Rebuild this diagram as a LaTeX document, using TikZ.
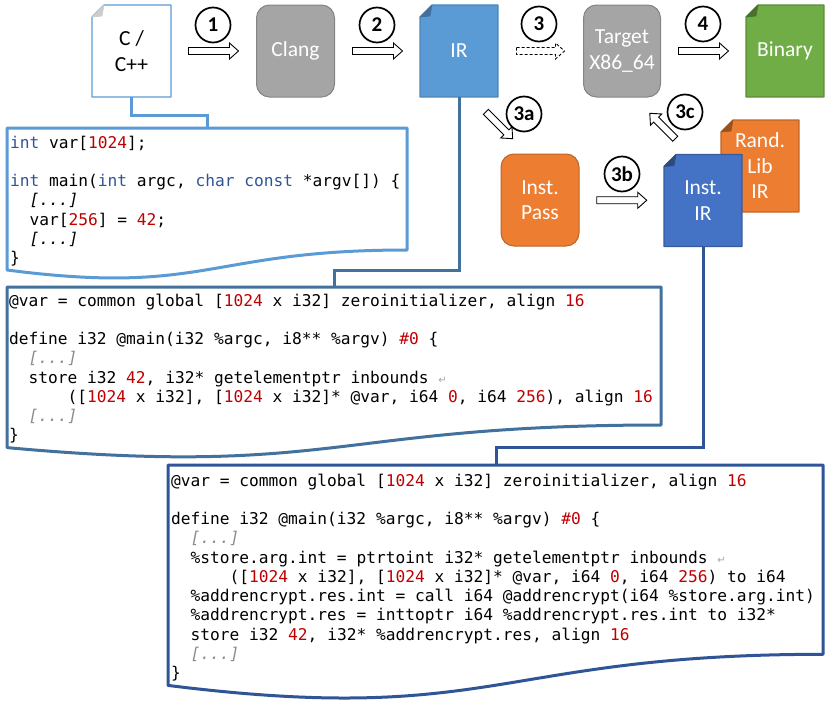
\documentclass[tikz,border=0pt]{standalone}
\usepackage{fontspec}
\setmainfont{Carlito}
\newfontfamily\codefont{DejaVu Sans Mono}
\newfontfamily\symfont{DejaVu Sans}
\usetikzlibrary{positioning, calc}

\definecolor{srcblue}{HTML}{5B9BD5}
\definecolor{irblue}{HTML}{41719C}
\definecolor{instblue}{HTML}{2F5597}
\definecolor{darkblue}{HTML}{4472C4}
\definecolor{toolgray}{HTML}{A5A5A5}
\definecolor{passorange}{HTML}{ED7D31}
\definecolor{bingreen}{HTML}{70AD47}
\definecolor{kwblue}{HTML}{2F5597}
\definecolor{numred}{HTML}{C00000}

\newcommand{\kw}[1]{\textcolor{kwblue}{#1}}
\newcommand{\nm}[1]{\textcolor{numred}{#1}}
\newcommand{\elide}[1][black]{\textcolor{#1}{\textit{[...]}}}
\newcommand{\ind}[1]{\hphantom{#1}}
\newcommand{\wrapmark}{{\symfont\fontsize{10}{10}\selectfont\textcolor{black!35}{↵}}}
% outline with the snipped, folded corner of a document node
\newcommand{\docsheet}[3]{%
  \fill[white] (#1.north west) -- ++(12,0) -- ++(-12,12) -- cycle;
  \draw[#2, line width=1.2pt, line join=round]
    ([xshift=12pt]#1.north west) -- (#1.north east) -- (#1.south east)
    -- (#1.south west) -- ([yshift=-12pt]#1.north west) -- cycle;
  \filldraw[#3, line width=0.6pt, line join=round] ([yshift=-12pt]#1.north west)
    -- ([xshift=12pt]#1.north west) -- ([xshift=10pt, yshift=-11pt]#1.north west) -- cycle;}
\newcommand{\blockarr}[4][]{%
  \draw[barrow, #1, shift={#2}, rotate=#3]
    ({-#4/2},-3.5) -- ({#4/2-9},-3.5) -- ({#4/2-9},-8) -- ({#4/2},0)
    -- ({#4/2-9},8) -- ({#4/2-9},3.5) -- ({-#4/2},3.5) -- cycle;}

\begin{document}
\begin{tikzpicture}[x=1pt, y=-1pt,
  font=\fontsize{21.5}{25.5}\selectfont,
  docshape/.style={rectangle, outer sep=0pt, minimum width=78pt, minimum height=92pt,
                   inner sep=0pt, align=center, text=white},
  toolbox/.style={draw, rounded corners=13pt, line width=1pt, minimum width=78pt,
                  minimum height=92pt, inner sep=0pt, align=center, text=white},
  stepnum/.style={circle, draw, line width=1.7pt, fill=white, minimum size=35pt,
                  inner sep=0pt, font=\bfseries\fontsize{21}{21}\selectfont},
  barrow/.style={draw=black, fill=white, line width=0.9pt, line join=miter},
  codebox/.style={anchor=north west, inner sep=0pt, align=left,
                  font=\codefont\fontsize{16.2}{19.25}\selectfont},
  sheet/.style={line width=3pt, fill=white, line join=round},
  conn/.style={line width=3pt},
  node distance=85pt]

  \useasboundingbox (0,0) rectangle (830,704);

  % toolchain row
  \node[docshape, fill=white, text=black, minimum width=79pt]
    (cdoc) at (131.5,51) {C /\\C++};
  \node[toolbox, fill=toolgray, draw=toolgray!80!black, right=of cdoc] (clang) {Clang};
  \node[docshape, fill=srcblue, right=of clang] (irdoc) {IR};
  \node[toolbox, fill=toolgray, draw=toolgray!80!black, right=of irdoc,
        minimum width=77pt] (target) {Target\\X86\_64};
  \node[docshape, fill=bingreen, right=of target] (bin) {Binary};
  \docsheet{cdoc}{srcblue}{black!20}
  \docsheet{irdoc}{srcblue!85!black}{irblue}
  \docsheet{bin}{bingreen!80!black}{bingreen!65!black}

  % instrumentation
  \node[toolbox, fill=passorange, draw=passorange!80!black] (instpass) at (540,200) {Inst.\\Pass};
  \node[docshape, fill=passorange] (randlib) at (760,166) {Rand.\\Lib\\IR};
  \docsheet{randlib}{passorange!80!black}{passorange!65!black}
  \node[docshape, fill=darkblue] (instir) at (703,200.5) {Inst.\\IR};
  \docsheet{instir}{darkblue!80!black}{darkblue!65!black}

  % steps
  \blockarr{($(cdoc.east)!0.5!(clang.west)$)}{0}{50}
  \blockarr{($(clang.east)!0.5!(irdoc.west)$)}{0}{50}
  \blockarr[dash pattern=on 3pt off 2pt]{($(irdoc.east)!0.5!(target.west)$)}{0}{48}
  \blockarr{($(target.east)!0.5!(bin.west)$)}{0}{50}
  \blockarr{($(irdoc.south east)!0.5!(instpass.north west)$)}{-45}{38}
  \blockarr{($(instpass.east)!0.5!(instir.west)$)}{0}{50}
  \blockarr{($(target.south east)!0.5!(instir.north west)$)}{135}{36}
  \node[stepnum] (s1) at (213,25) {1};
  \node[stepnum] (s2) at (377,25) {2};
  \node[stepnum] (s3) at (539,24) {3};
  \node[stepnum] (s4) at (703,24) {4};
  \node[stepnum] (s3a) at (524,114) {3a};
  \node[stepnum] (s3b) at (622,174) {3b};
  \node[stepnum] (s3c) at (685,112) {3c};

  % code sheets
  \draw[sheet, draw=srcblue] (7,128) -- (407,128) -- (407,250)
    .. controls (207,250) and (207,296) .. (7,270) -- cycle;
  \draw[sheet, draw=irblue] (7,287) -- (661,287) -- (661,425)
    .. controls (334,425) and (334,477.5) .. (7,447.6) -- cycle;
  \draw[sheet, draw=instblue] (168,465) -- (823,465) -- (823,654.3)
    .. controls (495.5,654.3) and (495.5,726.4) .. (168,685.4) -- cycle;
  \coordinate (srcin) at (207,128);
  \coordinate (irin) at (334,287);
  \coordinate (instin) at (496,465);

  \node[codebox] (srccode) at (10,135) {\rule{0pt}{13pt}\kw{int} var[\nm{1024}];\\ \mbox{}\\
    \kw{int} main(\kw{int} argc, \kw{char} \kw{const} *argv[]) \{\\
    \ind{00}\elide\\
    \ind{00}var[\nm{256}] = \nm{42};\\
    \ind{00}\elide\\
    \}};
  \node[codebox] (ircode) at (9,293) {\rule{0pt}{13pt}@var = common global [\nm{1024} x i32] zeroinitializer, align \nm{16}\\ \mbox{}\\
    define i32 @main(i32 \%argc, i8** \%argv) \nm{\#0} \{\\
    \ind{00}\elide[black!45]\\
    \ind{00}store i32 \nm{42}, i32* getelementptr inbounds \wrapmark\\
    \ind{000000}([\nm{1024} x i32], [\nm{1024} x i32]* @var, i64 \nm{0}, i64 \nm{256}), align \nm{16}\\
    \ind{00}\elide[black!45]\\
    \}};
  \node[codebox] (instcode) at (171,473) {\rule{0pt}{13pt}@var = common global [\nm{1024} x i32] zeroinitializer, align \nm{16}\\ \mbox{}\\
    define i32 @main(i32 \%argc, i8** \%argv) \nm{\#0} \{\\
    \ind{00}\elide[black!45]\\
    \ind{00}\%store.arg.int = ptrtoint i32* getelementptr inbounds \wrapmark\\
    \ind{000000}([\nm{1024} x i32], [\nm{1024} x i32]* @var, i64 \nm{0}, i64 \nm{256}) to i64\\
    \ind{00}\%addrencrypt.res.int = call i64 @addrencrypt(i64 \%store.arg.int)\\
    \ind{00}\%addrencrypt.res = inttoptr i64 \%addrencrypt.res.int to i32*\\
    \ind{00}store i32 \nm{42}, i32* \%addrencrypt.res, align \nm{16}\\
    \ind{00}\elide[black!45]\\
    \}};

  % links to the listings
  \draw[conn, srcblue] (cdoc.south) -- ++(0,18) -| (srcin);
  \draw[conn, irblue] (irdoc.south) -- ++(0,173) -| (irin);
  \draw[conn, instblue] (instir.south) -- ++(0,201) -| (instin);
\end{tikzpicture}
\end{document}
